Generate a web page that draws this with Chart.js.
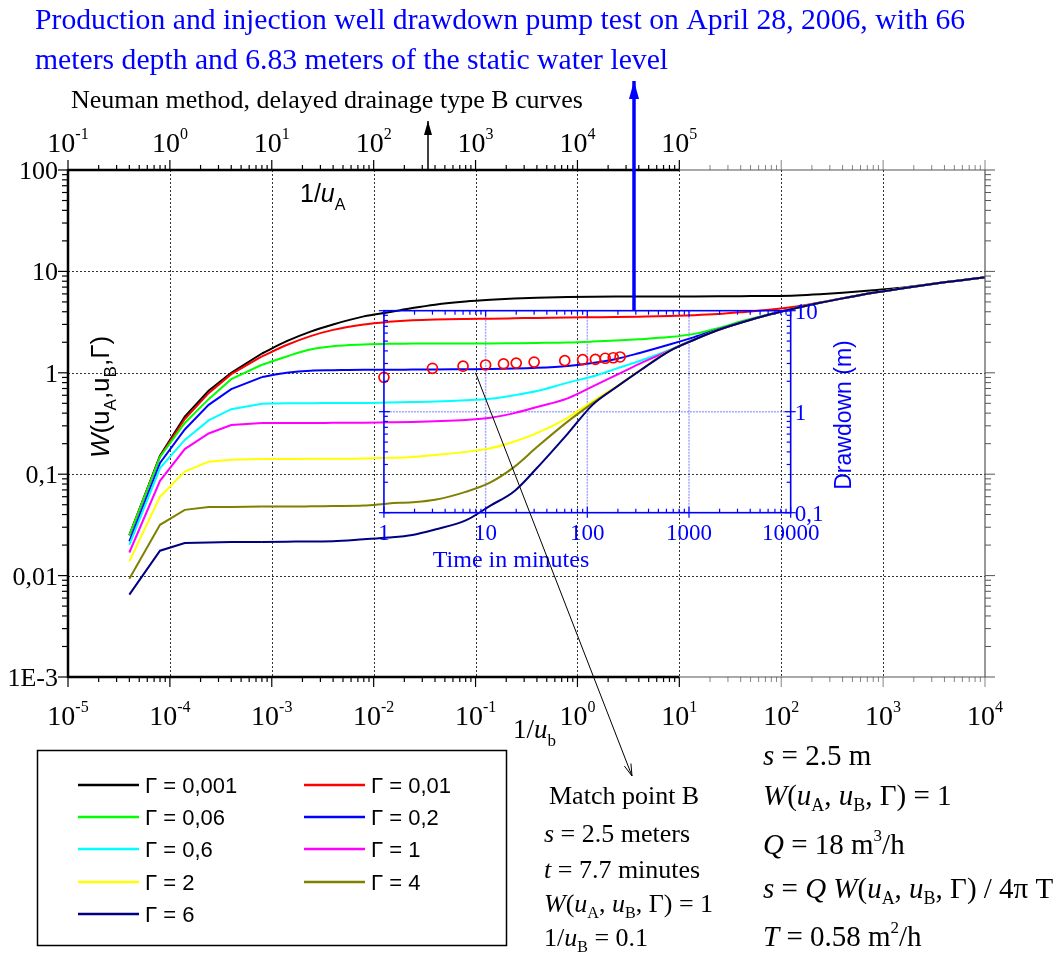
<!DOCTYPE html>
<html>
<head>
<meta charset="utf-8">
<script src="https://cdn.jsdelivr.net/npm/chart.js@4.4.1/dist/chart.umd.min.js"></script>
<style>
  html, body { margin: 0; padding: 0; background: #fff; }
  #wrap { width: 1059px; height: 958px; }
</style>
</head>
<body>
<div id="wrap"><canvas id="neumanChart" width="1059" height="958"></canvas></div>
<script>
// 1/uB values shared by all type B curves
const invUb = [4e-5, 8e-5, 1.4e-4, 2.4e-4, 4e-4, 8e-4, 1.4e-3, 2.4e-3, 4e-3, 8e-3,
  1.4e-2, 2.4e-2, 4e-2, 8e-2, 0.14, 0.24, 0.4, 0.8, 1.4, 2.4, 4, 8, 14, 24, 40, 80,
  140, 240, 400, 800, 1400, 2400, 4000, 8000, 10000];

// W(uA, uB, Γ), one array per Γ
const wG0001 = [0.025, 0.152, 0.37, 0.665, 1.0, 1.55, 2.05, 2.55, 3.0, 3.6, 3.95, 4.35, 4.7, 5.05, 5.25, 5.4, 5.5, 5.58, 5.62, 5.64, 5.65, 5.66, 5.67, 5.68, 5.7, 5.73, 5.8, 5.95, 6.15, 6.5, 6.85, 7.32, 7.83, 8.5, 8.75];
const wG001 = [0.025, 0.15, 0.35, 0.63, 0.97, 1.45, 1.88, 2.3, 2.65, 3.0, 3.18, 3.3, 3.36, 3.4, 3.42, 3.45, 3.48, 3.51, 3.53, 3.55, 3.58, 3.63, 3.7, 3.8, 3.95, 4.2, 4.5, 4.95, 5.43, 6.15, 6.72, 7.27, 7.8, 8.5, 8.75];
const wG006 = [0.025, 0.148, 0.32, 0.55, 0.866, 1.2, 1.45, 1.7, 1.83, 1.9, 1.93, 1.94, 1.95, 1.95, 1.95, 1.96, 1.97, 1.99, 2.03, 2.08, 2.14, 2.25, 2.42, 2.75, 3.2, 3.82, 4.36, 4.9, 5.42, 6.15, 6.72, 7.27, 7.8, 8.5, 8.75];
const wG02 = [0.0217, 0.129, 0.276, 0.483, 0.69, 0.907, 1.0, 1.05, 1.06, 1.07, 1.07, 1.075, 1.08, 1.085, 1.09, 1.1, 1.12, 1.17, 1.25, 1.37, 1.56, 1.9, 2.25, 2.68, 3.14, 3.8, 4.35, 4.9, 5.42, 6.15, 6.72, 7.27, 7.8, 8.5, 8.75];
const wG06 = [0.0201, 0.115, 0.218, 0.339, 0.438, 0.495, 0.5, 0.5, 0.505, 0.505, 0.51, 0.515, 0.52, 0.535, 0.555, 0.6, 0.66, 0.8, 0.92, 1.1, 1.3, 1.68, 2.14, 2.65, 3.12, 3.8, 4.35, 4.9, 5.42, 6.15, 6.72, 7.27, 7.8, 8.5, 8.75];
const wG1 = [0.0169, 0.086, 0.177, 0.252, 0.305, 0.319, 0.32, 0.32, 0.321, 0.322, 0.325, 0.328, 0.333, 0.343, 0.36, 0.4, 0.46, 0.56, 0.73, 0.95, 1.22, 1.66, 2.13, 2.64, 3.12, 3.8, 4.35, 4.9, 5.42, 6.15, 6.72, 7.27, 7.8, 8.5, 8.75];
const wG2 = [0.0138, 0.06, 0.106, 0.133, 0.139, 0.141, 0.141, 0.142, 0.142, 0.143, 0.145, 0.148, 0.155, 0.166, 0.18, 0.21, 0.254, 0.36, 0.52, 0.73, 1.04, 1.65, 2.12, 2.64, 3.12, 3.8, 4.35, 4.9, 5.42, 6.15, 6.72, 7.27, 7.8, 8.5, 8.75];
const wG4 = [0.0093, 0.0317, 0.0445, 0.0474, 0.0476, 0.048, 0.048, 0.0482, 0.0485, 0.049, 0.0515, 0.053, 0.056, 0.067, 0.083, 0.118, 0.185, 0.33, 0.5, 0.725, 1.035, 1.645, 2.12, 2.64, 3.12, 3.8, 4.35, 4.9, 5.42, 6.15, 6.72, 7.27, 7.8, 8.5, 8.75];
const wG6 = [0.0065, 0.0176, 0.021, 0.0212, 0.0214, 0.0215, 0.0216, 0.0217, 0.0218, 0.0228, 0.0237, 0.0252, 0.0285, 0.035, 0.049, 0.068, 0.115, 0.25, 0.48, 0.72, 1.03, 1.64, 2.12, 2.64, 3.12, 3.8, 4.35, 4.9, 5.42, 6.15, 6.72, 7.27, 7.8, 8.5, 8.75];

const gammaLabels = ['Γ = 0,001', 'Γ = 0,01', 'Γ = 0,06', 'Γ = 0,2', 'Γ = 0,6', 'Γ = 1', 'Γ = 2', 'Γ = 4', 'Γ = 6'];
const gammaCurves = [wG0001, wG001, wG006, wG02, wG06, wG1, wG2, wG4, wG6];
const curveColors = ['#000000', '#ff0000', '#00ff00', '#0000ff', '#00ffff', '#ff00ff', '#ffff00', '#808000', '#000080'];

// the early-time part of the curves is drawn as a polyline, the rest smoothed
const polyEnd = 5;

// pump test field data (inset)
const timeMin = [1, 3, 6, 10, 15, 20, 30, 60, 90, 120, 150, 180, 210];
const drawdownM = [2.19, 2.69, 2.82, 2.90, 2.97, 3.03, 3.10, 3.20, 3.27, 3.30, 3.38, 3.42, 3.48];

// axis ticks
const bottomExp = [-5, -4, -3, -2, -1, 0, 1, 2, 3, 4];
const topExp = [-1, 0, 1, 2, 3, 4, 5];
const leftTicks = [100, 10, 1, 0.1, 0.01, 0.001];
const leftTickLabels = ['100', '10', '1', '0,1', '0,01', '1E-3'];
const insetTimeTicks = [1, 10, 100, 1000, 10000];
const insetDrawTicks = [10, 1, 0.1];
const insetDrawLabels = ['10', '1', '0,1'];

// match point B
const matchInvUb = 0.1;
const matchW = 1;

const SERIF = '"Liberation Serif", "Times New Roman", serif';
const SANS = '"Liberation Sans", Arial, sans-serif';
const BLUE = '#0000ff';

function sf(size, style) { return (style ? style + ' ' : '') + size + 'px ' + SERIF; }
function ss(size, style) { return (style ? style + ' ' : '') + size + 'px ' + SANS; }

function logSteps(min, max) {
  const out = [];
  for (let e = Math.floor(Math.log10(min)); e <= Math.ceil(Math.log10(max)); e++) {
    for (let k = 1; k <= 9; k++) {
      const v = k * Math.pow(10, e);
      if (v >= min * 0.999 && v <= max * 1.001) out.push({ v: v, major: k === 1 });
    }
  }
  return out;
}

function richText(ctx, x, y, parts, align) {
  let w = 0;
  parts.forEach(p => { ctx.font = p.f; w += ctx.measureText(p.t).width; });
  let cx = align === 'center' ? x - w / 2 : (align === 'right' ? x - w : x);
  ctx.textAlign = 'left';
  ctx.textBaseline = 'alphabetic';
  parts.forEach(p => {
    ctx.font = p.f;
    ctx.fillText(p.t, cx, y + (p.dy || 0));
    cx += ctx.measureText(p.t).width;
  });
}

function seg(ctx, x1, y1, x2, y2) {
  ctx.beginPath(); ctx.moveTo(x1, y1); ctx.lineTo(x2, y2); ctx.stroke();
}

function arrow(ctx, x1, y1, x2, y2, len, half, filled) {
  seg(ctx, x1, y1, x2, y2);
  const a = Math.atan2(y2 - y1, x2 - x1);
  const bx = x2 - len * Math.cos(a), by = y2 - len * Math.sin(a);
  const px = -Math.sin(a) * half, py = Math.cos(a) * half;
  ctx.beginPath();
  ctx.moveTo(bx + px, by + py); ctx.lineTo(x2, y2); ctx.lineTo(bx - px, by - py);
  if (filled) { ctx.closePath(); ctx.fill(); } else { ctx.stroke(); }
}

// W(uA, uB, Γ) pieces
function wParts(size) {
  return [
    { t: 'W', f: sf(size, 'italic') }, { t: '(', f: sf(size) },
    { t: 'u', f: sf(size, 'italic') }, { t: 'A', f: sf(size * 0.62), dy: 6 },
    { t: ', ', f: sf(size) }, { t: 'u', f: sf(size, 'italic') },
    { t: 'B', f: sf(size * 0.62), dy: 6 }, { t: ', Γ)', f: sf(size) }
  ];
}

const decorPlugin = {
  id: 'decor',
  beforeDatasetsDraw(chart) {
    const ctx = chart.ctx, a = chart.chartArea, sc = chart.scales;
    ctx.save();
    // main decade grid
    ctx.strokeStyle = '#333'; ctx.lineWidth = 1; ctx.setLineDash([2, 2]);
    for (let e = -4; e <= 3; e++) {
      const px = Math.round(sc.x.getPixelForValue(Math.pow(10, e))) + 0.5;
      seg(ctx, px, a.top, px, a.bottom);
    }
    [10, 1, 0.1, 0.01].forEach(v => {
      const py = Math.round(sc.y.getPixelForValue(v)) + 0.5;
      seg(ctx, a.left, py, a.right, py);
    });
    // inset grid
    const L = sc.xTime.getPixelForValue(1), R = sc.xTime.getPixelForValue(1e4);
    const T = sc.yDraw.getPixelForValue(10), B = sc.yDraw.getPixelForValue(0.1);
    ctx.strokeStyle = 'rgba(60,60,255,0.45)'; ctx.lineWidth = 1.5; ctx.setLineDash([2, 1]);
    [10, 100, 1000].forEach(t => {
      const px = sc.xTime.getPixelForValue(t);
      seg(ctx, px, T, px, B);
    });
    const p1 = sc.yDraw.getPixelForValue(1);
    seg(ctx, L, p1, R, p1);
    ctx.restore();
  },
  afterDatasetsDraw(chart) {
    const ctx = chart.ctx, a = chart.chartArea, sc = chart.scales;
    ctx.save();
    ctx.setLineDash([]);
    ctx.fillStyle = '#000';

    // ---- main axes ----
    const splitB = sc.x.getPixelForValue(10);
    const splitT = sc.xA.getPixelForValue(1e5);
    logSteps(1e-5, 1e4).forEach(s => {
      const px = sc.x.getPixelForValue(s.v);
      ctx.strokeStyle = px > splitB + 1 ? '#666' : '#000';
      ctx.lineWidth = px > splitB + 1 ? 0.8 : 1.2;
      seg(ctx, px, a.bottom, px, a.bottom + (s.major ? 10 : 5));
    });
    logSteps(1e-1, 1e8).forEach(s => {
      const px = sc.xA.getPixelForValue(s.v);
      ctx.strokeStyle = px > splitT + 1 ? '#666' : '#000';
      ctx.lineWidth = px > splitT + 1 ? 0.8 : 1.2;
      seg(ctx, px, a.top, px, a.top - (s.major ? 10 : 5));
    });
    logSteps(1e-3, 100).forEach(s => {
      const py = sc.y.getPixelForValue(s.v);
      ctx.strokeStyle = '#000'; ctx.lineWidth = 1.2;
      seg(ctx, a.left - (s.major ? 10 : 6), py, a.left, py);
      ctx.strokeStyle = '#555'; ctx.lineWidth = 1;
      seg(ctx, a.right, py, a.right + (s.major ? 10 : 6), py);
    });
    ctx.strokeStyle = '#000'; ctx.lineWidth = 2.5;
    seg(ctx, a.left, a.bottom, splitB, a.bottom);
    seg(ctx, a.left, a.top, splitT, a.top);
    seg(ctx, a.left, a.top - 1, a.left, a.bottom + 1);
    ctx.strokeStyle = '#555'; ctx.lineWidth = 1.2;
    seg(ctx, splitB, a.bottom, a.right, a.bottom);
    seg(ctx, splitT, a.top, a.right, a.top);
    seg(ctx, a.right, a.top, a.right, a.bottom);

    // tick labels
    ctx.fillStyle = '#000';
    bottomExp.forEach(e => {
      const px = sc.x.getPixelForValue(Math.pow(10, e));
      richText(ctx, px, 725, [{ t: '10', f: sf(28) }, { t: String(e), f: sf(16), dy: -13 }], 'center');
    });
    topExp.forEach(e => {
      const px = sc.xA.getPixelForValue(Math.pow(10, e));
      richText(ctx, px, 152, [{ t: '10', f: sf(28) }, { t: String(e), f: sf(16), dy: -13 }], 'center');
    });
    leftTicks.forEach((v, i) => {
      const py = sc.y.getPixelForValue(v);
      richText(ctx, 58, py + 9, [{ t: leftTickLabels[i], f: sf(26) }], 'right');
    });

    // axis titles
    richText(ctx, 300, 202, [{ t: '1/', f: ss(25) }, { t: 'u', f: ss(25, 'italic') }, { t: 'A', f: ss(16), dy: 8 }], 'left');
    richText(ctx, 513, 738, [{ t: '1/', f: sf(27) }, { t: 'u', f: sf(27, 'italic') }, { t: 'b', f: sf(17), dy: 8 }], 'left');
    ctx.save();
    ctx.translate(109, 397);
    ctx.rotate(-Math.PI / 2);
    richText(ctx, 0, 0, [
      { t: 'W', f: ss(26, 'italic') }, { t: '(u', f: ss(26) }, { t: 'A', f: ss(17), dy: 7 },
      { t: ',u', f: ss(26) }, { t: 'B', f: ss(17), dy: 7 }, { t: ',Γ)', f: ss(26) }
    ], 'center');
    ctx.restore();

    // ---- inset ----
    const L = sc.xTime.getPixelForValue(1), R = sc.xTime.getPixelForValue(1e4);
    const T = sc.yDraw.getPixelForValue(10), B = sc.yDraw.getPixelForValue(0.1);
    ctx.strokeStyle = BLUE; ctx.lineWidth = 1.2;
    logSteps(1, 1e4).forEach(s => {
      const px = sc.xTime.getPixelForValue(s.v);
      if (s.major) {
        seg(ctx, px, B - 6, px, B + 5);
        seg(ctx, px, T, px, T + 6);
      } else {
        seg(ctx, px, B, px, B - 4);
        seg(ctx, px, T, px, T + 4);
      }
    });
    logSteps(0.1, 10).forEach(s => {
      const py = sc.yDraw.getPixelForValue(s.v);
      if (s.major) {
        seg(ctx, L - 5, py, L + 6, py);
        seg(ctx, R - 6, py, R + 5, py);
      } else {
        seg(ctx, L, py, L + 4, py);
        seg(ctx, R - 4, py, R, py);
      }
    });
    ctx.lineWidth = 1.6;
    ctx.strokeRect(L, T, R - L, B - T);

    ctx.fillStyle = BLUE;
    insetTimeTicks.forEach(t => {
      richText(ctx, sc.xTime.getPixelForValue(t), B + 27, [{ t: String(t), f: sf(23) }], 'center');
    });
    insetDrawTicks.forEach((v, i) => {
      richText(ctx, R + 4, sc.yDraw.getPixelForValue(v) + 8, [{ t: insetDrawLabels[i], f: sf(23) }], 'left');
    });
    richText(ctx, 511, 567, [{ t: 'Time in minutes', f: sf(24) }], 'center');
    ctx.save();
    ctx.translate(851, 415);
    ctx.rotate(-Math.PI / 2);
    richText(ctx, 0, 0, [{ t: 'Drawdown (m)', f: ss(23) }], 'center');
    ctx.restore();

    // ---- titles ----
    ctx.fillStyle = BLUE;
    richText(ctx, 35, 29, [{ t: 'Production and injection well drawdown pump test on April 28, 2006, with 66', f: sf(29.7) }], 'left');
    richText(ctx, 35, 69, [{ t: 'meters depth and 6.83 meters of the static water level', f: sf(29.7) }], 'left');
    ctx.fillStyle = '#000';
    richText(ctx, 71, 108, [{ t: 'Neuman method, delayed drainage type B curves', f: sf(26) }], 'left');

    // ---- arrows ----
    ctx.strokeStyle = '#000'; ctx.fillStyle = '#000'; ctx.lineWidth = 1.5;
    arrow(ctx, 428, a.top, 428, 121, 14, 4, true);
    ctx.strokeStyle = BLUE; ctx.fillStyle = BLUE; ctx.lineWidth = 3.5;
    arrow(ctx, 634, T, 634, 81, 18, 5, true);
    ctx.strokeStyle = '#000'; ctx.lineWidth = 1;
    arrow(ctx, sc.x.getPixelForValue(matchInvUb), sc.y.getPixelForValue(matchW), 632, 776, 12, 3.5, false);

    // ---- legend ----
    ctx.strokeStyle = '#000'; ctx.lineWidth = 1.5;
    ctx.strokeRect(37.5, 750.5, 469, 195);
    const rowY = [785, 817, 849, 882, 914];
    gammaLabels.forEach((lab, i) => {
      const col = i % 2, row = Math.floor(i / 2);
      const x0 = col === 0 ? 78 : 304;
      const y = rowY[row];
      ctx.strokeStyle = curveColors[i]; ctx.lineWidth = 2.5;
      seg(ctx, x0, y, x0 + 61, y);
      ctx.fillStyle = '#000';
      richText(ctx, x0 + 67, y + 8, [{ t: lab, f: ss(22) }], 'left');
    });

    // ---- match point text ----
    ctx.fillStyle = '#000';
    richText(ctx, 549, 804, [{ t: 'Match point B', f: sf(26) }], 'left');
    richText(ctx, 544, 842, [{ t: 's', f: sf(26, 'italic') }, { t: ' = 2.5 meters', f: sf(26) }], 'left');
    richText(ctx, 544, 878, [{ t: 't', f: sf(26, 'italic') }, { t: ' = 7.7 minutes', f: sf(26) }], 'left');
    richText(ctx, 544, 912, wParts(26).concat([{ t: ' = 1', f: sf(26) }]), 'left');
    richText(ctx, 544, 946, [{ t: '1/', f: sf(26) }, { t: 'u', f: sf(26, 'italic') }, { t: 'B', f: sf(16), dy: 6 }, { t: ' = 0.1', f: sf(26) }], 'left');

    const RS = 29;
    richText(ctx, 763, 765, [{ t: 's', f: sf(RS, 'italic') }, { t: ' = 2.5 m', f: sf(RS) }], 'left');
    richText(ctx, 763, 805, wParts(RS).concat([{ t: ' = 1', f: sf(RS) }]), 'left');
    richText(ctx, 763, 854, [{ t: 'Q', f: sf(RS, 'italic') }, { t: ' = 18 m', f: sf(RS) }, { t: '3', f: sf(17), dy: -13 }, { t: '/h', f: sf(RS) }], 'left');
    richText(ctx, 763, 898, [{ t: 's', f: sf(RS, 'italic') }, { t: ' = ', f: sf(RS) }, { t: 'Q', f: sf(RS, 'italic') }, { t: ' ', f: sf(RS) }]
      .concat(wParts(RS)).concat([{ t: ' / 4π T', f: sf(RS) }]), 'left');
    richText(ctx, 763, 946, [{ t: 'T', f: sf(RS, 'italic') }, { t: ' = 0.58 m', f: sf(RS) }, { t: '2', f: sf(17), dy: -13 }, { t: '/h', f: sf(RS) }], 'left');

    ctx.restore();
  }
};

const datasets = [{
  label: 'Pump test',
  data: timeMin.map((t, i) => ({ x: t, y: drawdownM[i] })),
  xAxisID: 'xTime', yAxisID: 'yDraw',
  showLine: false,
  pointStyle: 'circle', pointRadius: 5, pointBorderWidth: 1.7,
  pointBorderColor: '#ff0000', pointBackgroundColor: 'rgba(255,255,255,0)',
  order: 0
}];
gammaCurves.forEach((w, i) => {
  const pts = invUb.map((x, j) => ({ x: x, y: w[j] }));
  const common = {
    label: gammaLabels[i], xAxisID: 'x', yAxisID: 'y',
    borderColor: curveColors[i], borderWidth: 2,
    pointRadius: 0, fill: false, order: 10 - i
  };
  datasets.push(Object.assign({}, common, { data: pts.slice(0, polyEnd + 1), tension: 0 }));
  datasets.push(Object.assign({}, common, { data: pts.slice(polyEnd), cubicInterpolationMode: 'monotone' }));
});

new Chart(document.getElementById('neumanChart'), {
  type: 'line',
  data: { datasets: datasets },
  options: {
    responsive: false,
    animation: false,
    events: [],
    layout: { padding: { left: 68, right: 74, top: 170, bottom: 281 } },
    plugins: { legend: { display: false }, tooltip: { enabled: false } },
    scales: {
      x: { type: 'logarithmic', min: 1e-5, max: 1e4, display: false },
      y: { type: 'logarithmic', min: 1e-3, max: 100, display: false },
      xA: { type: 'logarithmic', axis: 'x', min: 1e-1, max: 1e8, display: false },
      xTime: { type: 'logarithmic', axis: 'x', min: Math.pow(10, -3.107), max: Math.pow(10, 5.911), display: false },
      yDraw: { type: 'logarithmic', axis: 'y', min: Math.pow(10, -2.627), max: Math.pow(10, 2.393), display: false }
    }
  },
  plugins: [decorPlugin]
});
</script>
</body>
</html>
